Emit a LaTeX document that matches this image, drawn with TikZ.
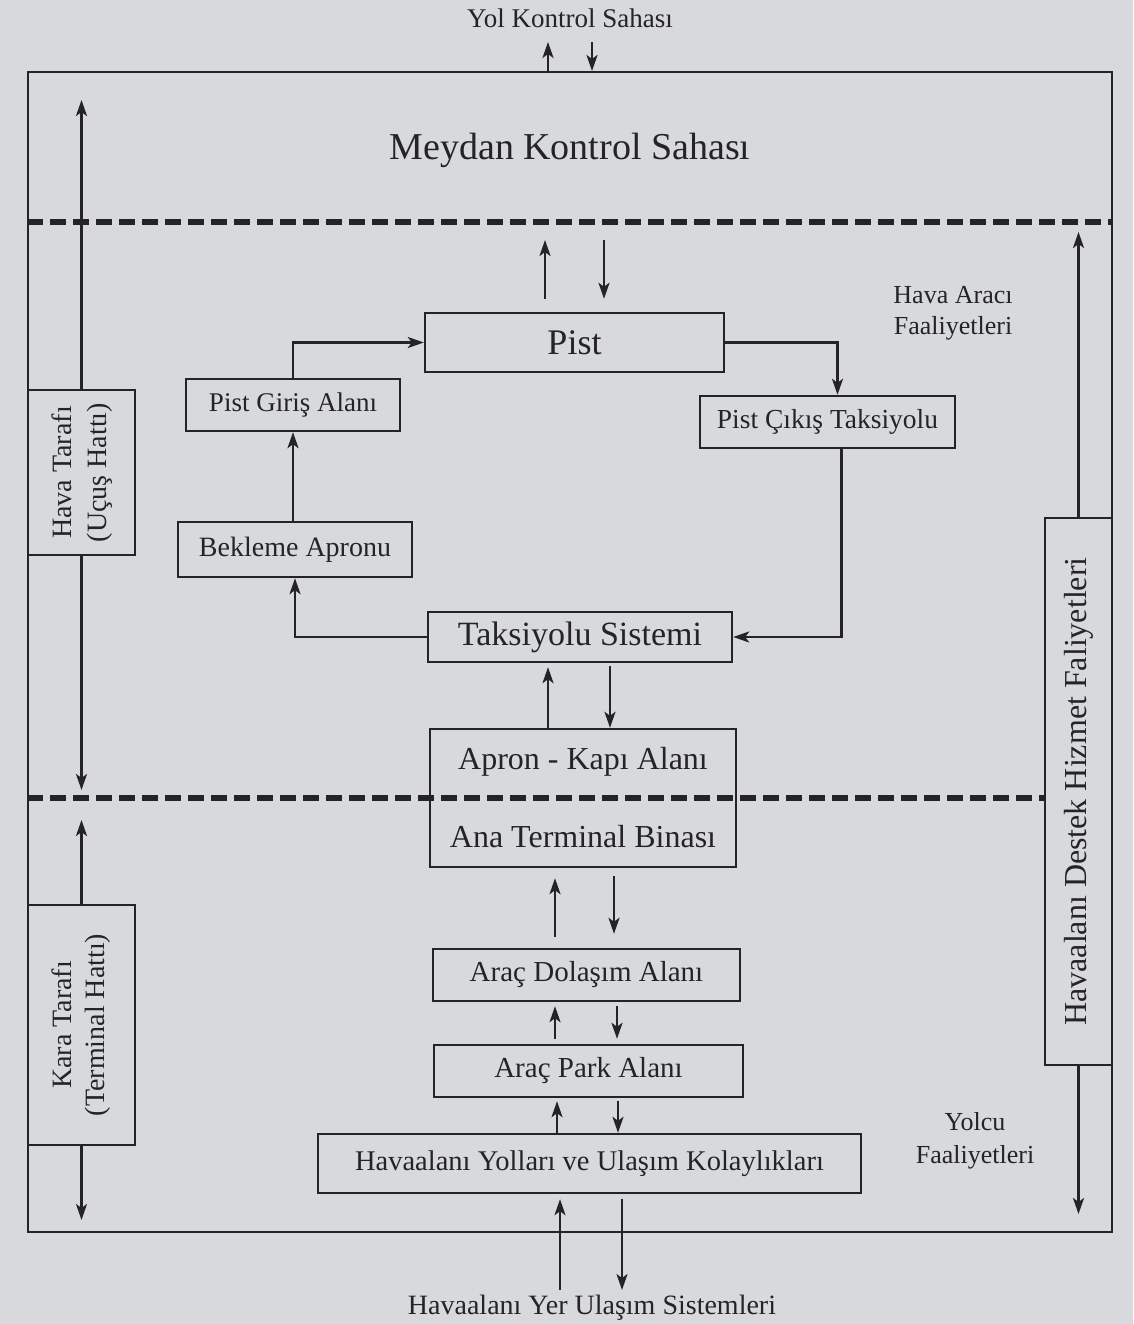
\documentclass[tikz,border=0pt]{standalone}
\usepackage{fontspec}
\setmainfont{Liberation Serif}
\usepackage{graphicx}
\usetikzlibrary{arrows.meta}
\definecolor{paper}{RGB}{215,217,220}
\definecolor{ink}{RGB}{36,36,38}
\newcommand{\fsz}[2]{\fontsize{#1}{#2}\selectfont}
\begin{document}
\begin{tikzpicture}[x=1pt,y=-1pt,
  box/.style={draw=ink,line width=2.4pt,inner sep=0pt,text=ink},
  arr/.style={draw=ink,line width=2.4pt,-{Stealth[length=16pt,width=11pt,inset=4pt]}},
  dashline/.style={draw=ink,line width=6pt,dash pattern=on 16pt off 7pt},
  lbl/.style={inner sep=0pt,align=center,text=ink}]

\path[use as bounding box,fill=paper] (0,0) rectangle (1133,1324);

% outer frame
\node[draw=ink,line width=2pt,minimum width=1084pt,minimum height=1160pt,inner sep=0pt] (frame) at (570,652) {};

% texts
\node[lbl,font=\fsz{27}{32}] (yol) at (570,18) {Yol Kontrol Sahası};
\node[lbl,font=\fsz{38}{44}] (meydan) at (570,150) {Meydan Kontrol Sahası};
\node[lbl,font=\fsz{26}{31}] (havaaraci) at (953,313) {Hava Aracı\\Faaliyetleri};
\node[lbl,font=\fsz{26}{33}] (yolcu) at (975,1141) {Yolcu\\Faaliyetleri};
\node[lbl,font=\fsz{28}{33}] (yer) at (592,1308) {Havaalanı Yer Ulaşım Sistemleri};

% boxes
\node[box,font=\fsz{36}{42},minimum width=299pt,minimum height=59pt] (pist) at (574.5,342.5) {Pist};
\node[box,font=\fsz{27}{32},minimum width=214pt,minimum height=52pt] (giris) at (293,405) {Pist Giriş Alanı};
\node[box,font=\fsz{28}{33},minimum width=234pt,minimum height=55pt] (bekleme) at (295,549.5) {Bekleme Apronu};
\node[box,font=\fsz{27.5}{32},minimum width=255pt,minimum height=52pt] (cikis) at (827.5,422) {Pist Çıkış Taksiyolu};
\node[box,font=\fsz{34}{40},minimum width=304pt,minimum height=50pt] (taksi) at (580,637) {Taksiyolu Sistemi};
\node[box,font=\fsz{32}{38},align=center,minimum width=306pt,minimum height=138pt] (apron) at (583,798) {Apron - Kapı Alanı\\[40pt]Ana Terminal Binası};
\node[box,font=\fsz{29}{34},minimum width=307pt,minimum height=52pt] (dolasim) at (586.5,975) {Araç Dolaşım Alanı};
\node[box,font=\fsz{29}{34},minimum width=309pt,minimum height=52pt] (park) at (588.5,1071) {Araç Park Alanı};
\node[box,font=\fsz{28.5}{34},minimum width=543pt,minimum height=59pt] (yollar) at (589.5,1163.5) {Havaalanı Yolları ve Ulaşım Kolaylıkları};

\node[box,font=\fsz{28}{35},minimum width=107pt,minimum height=165pt] (havaT) at (81.5,472.5)
  {\rotatebox{90}{\begin{tabular}{@{}c@{}}Hava Tarafı\\(Uçuş Hattı)\end{tabular}}};
\node[box,font=\fsz{28}{33},minimum width=107pt,minimum height=240pt] (karaT) at (81.5,1025)
  {\rotatebox{90}{\begin{tabular}{@{}c@{}}Kara Tarafı\\(Terminal Hattı)\end{tabular}}};
\node[box,font=\fsz{32}{38},minimum width=67pt,minimum height=547pt] (destek) at (1078.5,791.5)
  {\rotatebox{90}{Havaalanı Destek Hizmet Faliyetleri}};

% dashed separators
\coordinate (d1) at (0,222);
\coordinate (d2) at (0,798);
\draw[dashline] (frame.west |- d1) -- (frame.east |- d1);
\draw[dashline] (frame.west |- d2) -- (destek.west |- d2);

% free arrow ends
\coordinate (yolU) at (548,42);
\coordinate (yolD) at (592,42);
\coordinate (mU) at (545,240);
\coordinate (mD) at (604,240);
\coordinate (yerU) at (560,1290);
\coordinate (yerD) at (622,1290);
\coordinate (hTop) at (81.5,100);
\coordinate (hBot) at (81.5,790);
\coordinate (kTop) at (81.5,820);
\coordinate (kBot) at (81.5,1220);
\coordinate (dTop) at (1078.5,232);
\coordinate (dBot) at (1078.5,1214);

% connectors
\draw[arr] (frame.north -| yolU) -- (yolU);
\draw[arr] (yolD) -- (frame.north -| yolD);
\draw[arr,shorten <=13pt] (pist.north -| mU) -- (mU);
\draw[arr,shorten >=13pt] (mD) -- (pist.north -| mD);

\draw[arr] (giris.north) |- (pist.west);
\draw[arr] (pist.east) -| ([xshift=10pt]cikis.north);
\draw[arr] (bekleme.north -| giris.south) -- (giris.south);
\draw[arr] (taksi.west) -| (bekleme.south);
\draw[arr] ([xshift=14pt]cikis.south) |- (taksi.east);

\draw[arr,shorten >=4pt] ([xshift=-35pt]apron.north) -- ([xshift=-35pt]apron.north |- taksi.south);
\draw[arr,shorten <=3pt] ([xshift=27pt]apron.north |- taksi.south) -- ([xshift=27pt]apron.north);

\draw[arr,shorten <=11pt,shorten >=10pt] ([xshift=-31.5pt]dolasim.north) -- ([xshift=-31.5pt]dolasim.north |- apron.south);
\draw[arr,shorten <=8pt,shorten >=14pt] ([xshift=27.5pt]dolasim.north |- apron.south) -- ([xshift=27.5pt]dolasim.north);

\draw[arr,shorten <=5pt,shorten >=4pt] ([xshift=-33.5pt]park.north) -- ([xshift=-33.5pt]park.north |- dolasim.south);
\draw[arr,shorten <=4pt,shorten >=5pt] ([xshift=28.5pt]park.north |- dolasim.south) -- ([xshift=28.5pt]park.north);

\draw[arr,shorten >=3pt] ([xshift=-32.5pt]yollar.north) -- ([xshift=-32.5pt]yollar.north |- park.south);
\draw[arr,shorten <=3pt] ([xshift=28.5pt]yollar.north |- park.south) -- ([xshift=28.5pt]yollar.north);

\draw[arr,shorten >=5pt] (yerU) -- (yerU |- yollar.south);
\draw[arr,shorten <=5pt] (yerD |- yollar.south) -- (yerD);

\draw[arr] (havaT.north) -- (hTop);
\draw[arr] (havaT.south) -- (hBot);
\draw[arr] (karaT.north) -- (kTop);
\draw[arr] (karaT.south) -- (kBot);
\draw[arr] (destek.north) -- (dTop);
\draw[arr] (destek.south) -- (dBot);
\end{tikzpicture}
\end{document}
